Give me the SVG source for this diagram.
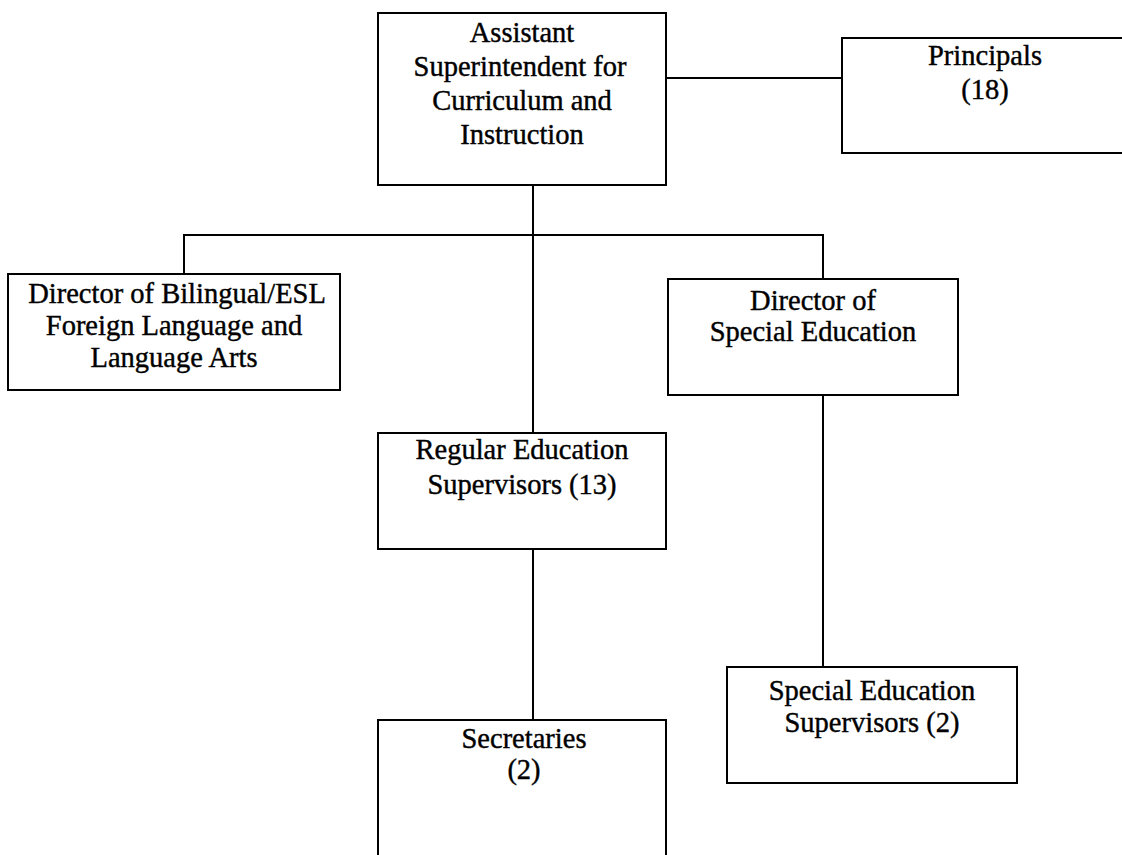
<svg xmlns="http://www.w3.org/2000/svg" width="1122" height="855" viewBox="0 0 1122 855">
<style>
.box{fill:#fff;stroke:#000;stroke-width:2}
.ln{fill:none;stroke:#000;stroke-width:2}
text{font-family:"Liberation Serif","Times New Roman",serif;font-size:28.5px;fill:#000;stroke:#000;stroke-width:0.4;text-anchor:middle}
</style>
<rect width="1122" height="855" fill="#fff"/>
<g id="connectors">
<line class="ln" x1="666" y1="78" x2="842" y2="78"/>
<line class="ln" x1="533" y1="185" x2="533" y2="433"/>
<polyline class="ln" points="184,274 184,235 823,235 823,279"/>
<line class="ln" x1="533" y1="549" x2="533" y2="720"/>
<line class="ln" x1="823" y1="395" x2="823" y2="667"/>
</g>
<g id="asst">
<rect class="box" x="378" y="13" width="288" height="172"/>
<text x="522" y="42">Assistant</text>
<text x="520" y="76">Superintendent for</text>
<text x="522" y="110">Curriculum and</text>
<text x="522" y="144">Instruction</text>
</g>
<g id="principals">
<rect class="box" x="842" y="38" width="290" height="115"/>
<text x="985" y="65">Principals</text>
<text x="985" y="99">(18)</text>
</g>
<g id="bilingual">
<rect class="box" x="8" y="274" width="332" height="116"/>
<text x="177" y="303">Director of Bilingual/ESL</text>
<text x="174" y="335">Foreign Language and</text>
<text x="174" y="367">Language Arts</text>
</g>
<g id="dir-sped">
<rect class="box" x="668" y="279" width="290" height="116"/>
<text x="813" y="310">Director of</text>
<text x="813" y="341">Special Education</text>
</g>
<g id="regular">
<rect class="box" x="378" y="433" width="288" height="116"/>
<text x="522" y="459">Regular Education</text>
<text x="522" y="494">Supervisors (13)</text>
</g>
<g id="secretaries">
<rect class="box" x="378" y="720" width="288" height="150"/>
<text x="524" y="748">Secretaries</text>
<text x="524" y="779">(2)</text>
</g>
<g id="sped-sup">
<rect class="box" x="727" y="667" width="290" height="116"/>
<text x="872" y="700">Special Education</text>
<text x="872" y="732">Supervisors (2)</text>
</g>
</svg>
